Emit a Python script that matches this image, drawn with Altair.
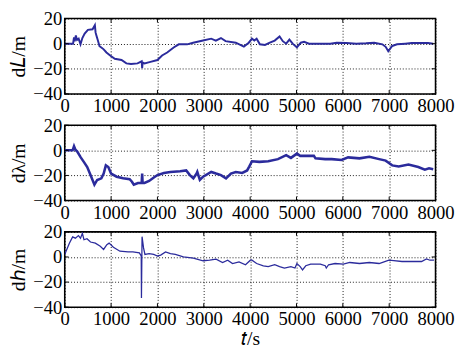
import altair as alt
import pandas as pd

# ---- data ----
t_L = [0, 180, 200, 215, 240, 265, 300, 340, 380, 430, 500, 600, 650, 665, 680, 720, 750, 790, 840, 900,
       980, 1080, 1225, 1330, 1430, 1570, 1660, 1670, 1680, 1720, 1850, 2000, 2100, 2210, 2350, 2460, 2640,
       2770, 2985, 3160, 3260, 3370, 3470, 3690, 3865, 3970, 4040, 4090, 4140, 4210, 4320, 4425, 4530, 4635,
       4705, 4777, 4847, 4917, 5009, 5093, 5164, 5270, 5727, 5868, 6079, 6290, 6500, 6678, 6853, 6924, 6980,
       7065, 7170, 7346, 7487, 7839, 7950]
v_L = [0, 0, 5, 2, 6.5, 3, 4, -0.5, 4.5, 8, 11, 11.5, 14.7, 9, 7, 2, -2, -3, -4.5, -7,
       -9.4, -12, -13, -15.7, -16.2, -15.7, -14, -19.5, -15, -15.7, -14.5, -13, -9.4, -7, -3, -0.5, -0.5,
       0.8, 2.5, 4, 2.5, 4.5, 2, 0.8, -2.3, 0.8, 4, 2.5, 4, -0.5, -1, 0.8, 2.5, 5.8,
       2, 0, 3.3, 0, -3, 0.8, 1.5, 0, 0, 0.8, 0.5, 0, 0.3, 0.8, -0.5, -2.5, -6,
       -1.8, -0.5, 0, 0.5, 0.5, 0]

t_lam = [0, 170, 200, 230, 270, 345, 415, 485, 556, 640, 700, 790, 840, 887, 940, 1000, 1120, 1260, 1400,
         1450, 1490, 1580, 1660, 1670, 1680, 1720, 1820, 1930, 2000, 2140, 2280, 2490, 2620, 2700, 2775,
         2845, 2860, 2915, 2985, 3160, 3265, 3370, 3480, 3585, 3690, 3830, 3935, 3980, 4040, 4200, 4390,
         4600, 4777, 4880, 5009, 5080, 5164, 5375, 5410, 5620, 5760, 5973, 6114, 6360, 6572, 6783, 6924,
         7065, 7205, 7416, 7628, 7769, 7860, 7950]
v_lam = [0, 0, 3.3, 0.5, -1, -5.6, -9.4, -13.3, -19.7, -27.4, -23.6, -22.3, -18.5, -12, -13.3, -18.5, -21,
         -22.3, -23, -25, -27.4, -26, -26, -18.5, -26, -26, -24.4, -21.5, -19.7, -18, -17.2, -16.7, -16,
         -19.7, -22.3, -18.5, -17.2, -23.6, -21, -17.2, -18.5, -19.7, -22.3, -18.5, -17.2, -18, -16, -13,
         -8.7, -9.2, -8.7, -7, -3.8, -6, -2.6, -4.4, -4.4, -4.4, -6.4, -7, -7, -7.7, -5.6, -6.4, -5.1, -7,
         -8.2, -12, -12.8, -11.3, -13.3, -15.4, -14.3, -15]

t_h = [0, 28, 100, 170, 230, 295, 340, 380, 415, 480, 556, 660, 767, 838, 908, 957, 1050, 1190, 1365, 1470,
       1610, 1650, 1655, 1668, 1700, 1730, 1820, 1920, 2000, 2070, 2175, 2280, 2386, 2560, 2775, 2985, 3125,
       3265, 3405, 3515, 3620, 3760, 3900, 4005, 4040, 4140, 4285, 4390, 4530, 4635, 4740, 4880, 4967, 5009,
       5080, 5130, 5200, 5305, 5515, 5620, 5643, 5692, 5833, 6010, 6150, 6360, 6572, 6783, 6889, 6994, 7100,
       7276, 7487, 7698, 7804, 7880, 7966]
v_h = [2, 4.6, 11, 16, 15, 17, 15, 18.8, 13.7, 14.5, 11.9, 11, 8.5, 6, 9.8, 11, 7.7, 4.6, 4, 4,
       3.3, 0.8, -32.7, 16.2, 7.2, 2, 2.6, 2, 0.8, 1.5, 4, 2.6, 2, 0, -1, -3, -2.6,
       -1.8, -4.4, -2.6, -5.2, -3.9, -6.2, -2.6, -2.6, -5.2, -7, -7.7, -6.2, -7.7, -8.8, -7.7, -8.8, -5.2,
       -7.7, -10.3, -7, -5.7, -5.7, -7, -8.8, -6.2, -5.2, -5.7, -4.4, -5.2, -4.4, -5.2, -3.9, -2.6, -3,
       -3.6, -3.6, -3.6, -1.5, -2.6, -2.6]

x_ticks = [0, 1000, 2000, 3000, 4000, 5000, 6000, 7000, 8000]
y_ticks = [-40, -20, 0, 20]

W, H = 379, 77
LINE = "#2b2b9c"
FONT = "Liberation Serif"


def panel(t, v, ytitle, width, xtitle=None):
    df = pd.DataFrame({"t": t, "v": v})
    xt = pd.DataFrame({"t": x_ticks})
    yt = pd.DataFrame({"v": y_ticks})
    xs = alt.Scale(domain=[0, 8000], nice=False)
    ys = alt.Scale(domain=[-40, 20], nice=False)
    xa = alt.Axis(values=x_ticks, format="d", title=xtitle, labelFlush=False, labelOverlap=False,
                  labelFont=FONT, labelFontSize=19, titleFont=FONT)
    ya = alt.Axis(values=y_ticks, title=ytitle, labelFlush=False, labelOverlap=False,
                  labelFont=FONT, labelFontSize=19, titleFont=FONT)
    X = alt.X("t:Q", scale=xs, axis=xa)
    Y = alt.Y("v:Q", scale=ys, axis=ya)
    line = alt.Chart(df).mark_line(color=LINE, strokeWidth=width, clip=True).encode(x=X, y=Y)
    xt_top = alt.Chart(xt).mark_rule(color="black", strokeWidth=1).encode(
        x=X, y=alt.value(0), y2=alt.value(4))
    xt_bot = alt.Chart(xt).mark_rule(color="black", strokeWidth=1).encode(
        x=X, y=alt.value(H - 4), y2=alt.value(H))
    yt_l = alt.Chart(yt).mark_rule(color="black", strokeWidth=1).encode(
        y=Y, x=alt.value(0), x2=alt.value(4))
    yt_r = alt.Chart(yt).mark_rule(color="black", strokeWidth=1).encode(
        y=Y, x=alt.value(W - 4), x2=alt.value(W))
    return alt.layer(line, xt_top, xt_bot, yt_l, yt_r).properties(width=W, height=H)


p1 = panel(t_L, v_L, "d𝐿/m", 2.0)
p2 = panel(t_lam, v_lam, "dλ/m", 2.6)
p3 = panel(t_h, v_h, "dℎ/m", 1.3, xtitle="𝑡/s")

chart = alt.vconcat(p1, p2, p3, spacing=32, bounds="flush").properties(
    padding={"left": 0, "top": -3, "right": 5, "bottom": 0},
    background="white",
).configure_view(
    stroke="black", strokeWidth=1.6
).configure_axis(
    grid=True, gridColor="black", gridDash=[1, 2], gridWidth=1, gridOpacity=0.9,
    domain=False, ticks=False,
    labelFont=FONT, labelFontSize=19, labelColor="black", labelPadding=3,
    titleFont=FONT, titleFontSize=20, titleColor="black", titleFontWeight="normal",
).configure_axisY(
    titlePadding=4, labelPadding=3
).configure_axisX(
    titlePadding=0
)

chart.save("out.html", embed_options={"renderer": "svg", "actions": False})
